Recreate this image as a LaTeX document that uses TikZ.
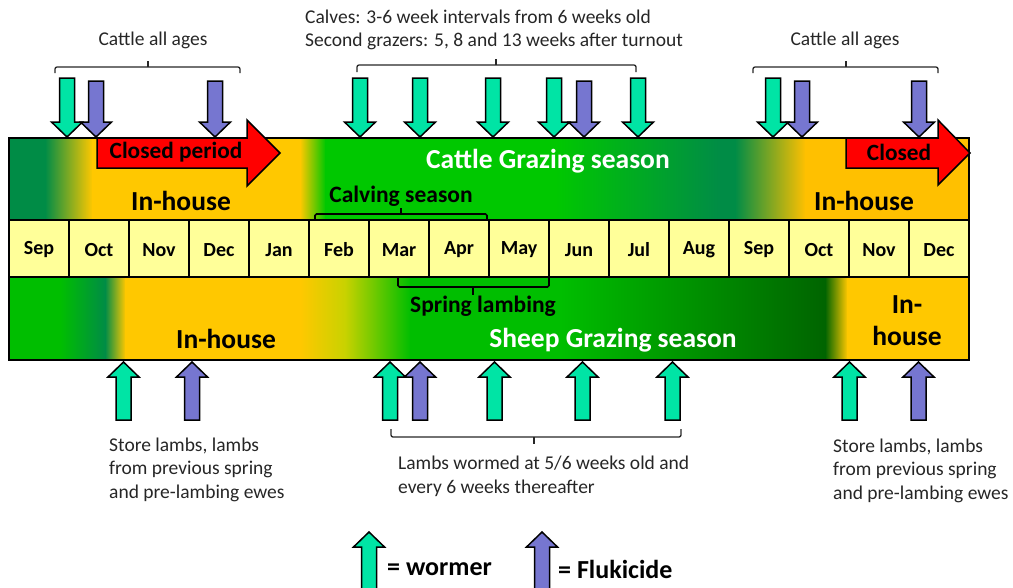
\documentclass[tikz,border=0pt]{standalone}
\usepackage{fontspec}
\setmainfont{Carlito}
\definecolor{dgreen}{RGB}{0,140,70}
\definecolor{bgreen}{RGB}{0,200,0}
\definecolor{sgreen}{RGB}{0,190,0}
\definecolor{sdark}{RGB}{0,100,0}
\definecolor{ygold}{RGB}{255,200,0}
\definecolor{yorange}{RGB}{255,192,0}
\definecolor{ygreen}{RGB}{200,210,0}
\definecolor{cellfill}{RGB}{255,255,153}
\definecolor{worm}{RGB}{0,228,165}
\definecolor{fluke}{RGB}{118,118,208}
\definecolor{closedred}{RGB}{255,0,0}
\definecolor{txt}{RGB}{38,38,38}
% horizontal colour band: y1, y2, x1, colour1, x2, colour2
\newcommand{\band}[6]{\shade[left color=#4,right color=#6] (#3,#1) rectangle ({#5+0.6},#2);}
% treatment arrow pointing down onto the cattle bar: style, x, top
\newcommand{\dnarr}[3]{\draw[#1] ({#2-7.5},#3) -- ({#2+7.5},#3) -- ({#2+7.5},122) -- ({#2+15.5},122) -- (#2,137) -- ({#2-15.5},122) -- ({#2-7.5},122) -- cycle;}
% treatment arrow pointing up: style, x, tip, bottom
\newcommand{\uparr}[4]{\draw[#1] ({#2-7.5},#4) -- ({#2+7.5},#4) -- ({#2+7.5},{#3+15}) -- ({#2+15.5},{#3+15}) -- (#2,#3) -- ({#2-15.5},{#3+15}) -- ({#2-7.5},{#3+15}) -- cycle;}
\begin{document}
\begin{tikzpicture}[x=1pt,y=-1pt,
  wormarr/.style={fill=worm,draw=black,line width=1.5pt,line join=miter},
  flukearr/.style={fill=fluke,draw=black,line width=1.5pt,line join=miter},
  brk/.style={draw=txt,line width=1.3pt,rounded corners=2pt},
  barbrk/.style={draw=black,line width=1.6pt,rounded corners=1.5pt},
  note/.style={font=\fontsize{19.5}{23.5}\selectfont,text=txt,align=left,inner sep=0pt},
  bigb/.style={font=\bfseries\fontsize{27.5}{32}\selectfont,text=black,inner sep=0pt,align=center},
  bigw/.style={font=\bfseries\fontsize{27.5}{32}\selectfont,text=white,inner sep=0pt},
  medb/.style={font=\bfseries\fontsize{23.5}{27}\selectfont,text=black,inner sep=0pt},
  closedtxt/.style={font=\bfseries\fontsize{23.3}{27}\selectfont,text=black,inner sep=0pt},
  monthcell/.style={draw=black,line width=2pt,fill=cellfill,minimum width=60pt,minimum height=57pt,inner sep=0pt},
  monthtxt/.style={font=\bfseries\fontsize{20}{24}\selectfont,inner sep=0pt},
  legtxt/.style={font=\bfseries\fontsize{26}{30}\selectfont,text=black,inner sep=0pt,anchor=west}]
\useasboundingbox (0,0) rectangle (1013,587);
\clip (0,0) rectangle (1013,587);

% cattle bar
\band{138}{220}{9}{dgreen}{45}{dgreen}
\band{138}{220}{45}{dgreen}{92}{ygold}
\band{138}{220}{92}{ygold}{300}{ygold}
\band{138}{220}{300}{ygold}{325}{bgreen}
\band{138}{220}{325}{bgreen}{555}{bgreen}
\band{138}{220}{555}{bgreen}{720}{dgreen}
\band{138}{220}{720}{dgreen}{735}{dgreen}
\band{138}{220}{735}{dgreen}{805}{yorange}
\band{138}{220}{805}{yorange}{968.4}{yorange}
\draw[line width=2pt] (9,138) rectangle (969,220);

% sheep bar
\band{277}{360}{9}{sgreen}{60}{sgreen}
\band{277}{360}{60}{sgreen}{105}{dgreen}
\band{277}{360}{105}{dgreen}{125}{ygold}
\band{277}{360}{125}{ygold}{300}{ygold}
\band{277}{360}{300}{ygold}{345}{ygreen}
\band{277}{360}{345}{ygreen}{410}{sgreen}
\band{277}{360}{410}{sgreen}{560}{sgreen}
\band{277}{360}{560}{sgreen}{825}{sdark}
\band{277}{360}{825}{sdark}{847}{ygold}
\band{277}{360}{847}{ygold}{968.4}{ygold}
\draw[line width=2pt] (9,277) rectangle (969,360);

% months
\foreach \m [count=\i from 0] in {Sep,Oct,Nov,Dec,Jan,Feb,Mar,Apr,May,Jun,Jul,Aug,Sep,Oct,Nov,Dec}{
  \node[monthcell] (m\i) at ({39+60*\i},248.5) {};
  \node[monthtxt] (t\i) at ({39+60*\i},250) {\m};
}

% closed periods
\draw[fill=closedred,line width=1.5pt,line join=miter] (97,138) -- (247,138) -- (247,120) -- (280,153) -- (247,186) -- (247,168) -- (97,168) -- cycle;
\node[closedtxt] (cp1) at (176,152) {Closed period};
\draw[fill=closedred,line width=1.5pt,line join=miter] (846,138) -- (938,138) -- (938,120) -- (970,153) -- (938,185) -- (938,168) -- (846,168) -- cycle;
\node[closedtxt] (cp2) at (899,152) {Closed};

% bar labels
\node[bigw] (cgs) at (548,161) {Cattle Grazing season};
\node[bigb] (ih1) at (181,201) {In-house};
\node[bigb] (ih2) at (864,201) {In-house};
\node[medb] (calv) at (401,196) {Calving season};
\draw[barbrk] (315,220) -- (315,214) -- (487,214) -- (487,220);
\draw[barbrk] (401,214) -- (401,208);
\draw[barbrk] (398,277) -- (398,287) -- (549,287) -- (549,277);
\draw[barbrk] (473,287) -- (473,295);
\node[medb] (spl) at (483,306) {Spring lambing};
\node[bigb] (ih3) at (226,339) {In-house};
\node[bigw] (sgs) at (613,340) {Sheep Grazing season};
\node[bigb] (ih4) at (907,321) {In-\\house};

% cattle treatments
\node[note] (ca1) at (153,40) {Cattle all ages};
\draw[brk] (55,73) -- (55,67) -- (240,67) -- (240,73);
\draw[brk] (148,67) -- (148,61);
\node[note,anchor=west] (calves) at (305,30) {Calves: 3-6 week intervals from 6 weeks old\\Second grazers: 5, 8 and 13 weeks after turnout};
\draw[brk] (357,72) -- (357,65) -- (636,65) -- (636,72);
\draw[brk] (496,65) -- (496,59);
\node[note] (ca2) at (845,40) {Cattle all ages};
\draw[brk] (753,73) -- (753,67) -- (938,67) -- (938,73);
\draw[brk] (846,67) -- (846,61);

\dnarr{wormarr}{67}{78}
\dnarr{flukearr}{96}{81}
\dnarr{flukearr}{215}{81}
\dnarr{wormarr}{360}{78}
\dnarr{wormarr}{420}{78}
\dnarr{wormarr}{493}{78}
\dnarr{wormarr}{554}{78}
\dnarr{flukearr}{584}{81}
\dnarr{wormarr}{638}{78}
\dnarr{wormarr}{773}{78}
\dnarr{flukearr}{802}{81}
\dnarr{flukearr}{919}{81}

% sheep treatments
\uparr{wormarr}{123.5}{362}{420}
\uparr{flukearr}{192}{362}{420}
\uparr{wormarr}{390}{362}{420}
\uparr{flukearr}{420}{362}{420}
\uparr{wormarr}{494.5}{362}{420}
\uparr{wormarr}{582.5}{362}{420}
\uparr{wormarr}{672.5}{362}{420}
\uparr{wormarr}{849.5}{362}{420}
\uparr{flukearr}{918.5}{362}{420}

\draw[brk] (391,429) -- (391,437) -- (681,437) -- (681,429);
\draw[brk] (534,437) -- (534,444);
\node[note,anchor=west] (lambs) at (398,476.5) {Lambs wormed at 5/6 weeks old and\\every 6 weeks thereafter};
\node[note,anchor=west] (store1) at (109,469.5) {Store lambs, lambs\\from previous spring\\and pre-lambing ewes};
\node[note,anchor=west] (store2) at (833,470.5) {Store lambs, lambs\\from previous spring\\and pre-lambing ewes};

% key
\uparr{wormarr}{369}{532}{600}
\node[legtxt] (kw) at (387,569) {= wormer};
\uparr{flukearr}{542}{532}{600}
\node[legtxt] (kf) at (558,569) {= Flukicide};
\end{tikzpicture}
\end{document}
